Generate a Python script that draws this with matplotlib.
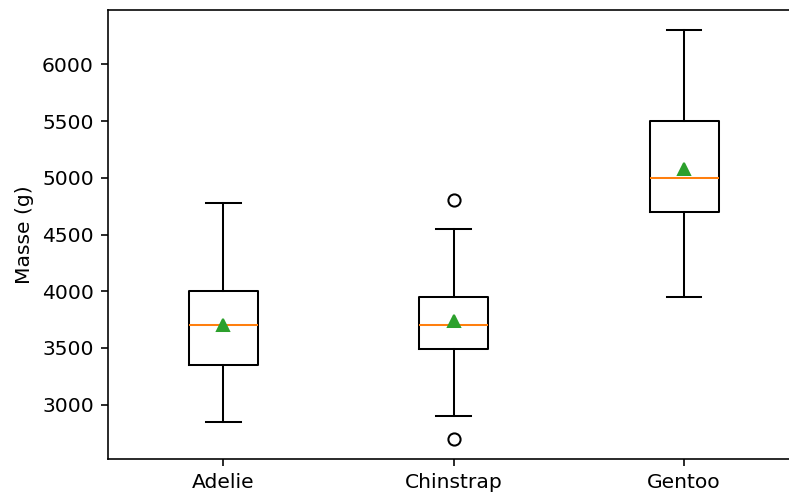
import matplotlib.pyplot as plt

species = ["Adelie", "Chinstrap", "Gentoo"]
whislo = [2850, 2900, 3950]
q1 = [3350, 3487.5, 4700]
med = [3700, 3700, 5000]
q3 = [4000, 3950, 5500]
whishi = [4775, 4550, 6300]
means = [3700.7, 3733.1, 5076.0]
fliers = [[], [4800, 2700], []]

stats = [
    {"label": s, "whislo": lo, "q1": a, "med": m, "q3": b, "whishi": hi, "mean": mu, "fliers": f}
    for s, lo, a, m, b, hi, mu, f in zip(species, whislo, q1, med, q3, whishi, means, fliers)
]

dpi = 146
fig = plt.figure(figsize=(789 / dpi, 495 / dpi), dpi=dpi)
ax = fig.add_axes([108 / 789, 36 / 495, 681 / 789, 449 / 495])
ax.bxp(stats, showmeans=True)
# original was cropped on the right: no right spine, last box near the edge
ax.set_xlim(0.5, 3.455)
ax.spines["right"].set_visible(False)
ax.set_ylabel("Masse (g)")
fig.savefig("out.png", dpi=dpi)
